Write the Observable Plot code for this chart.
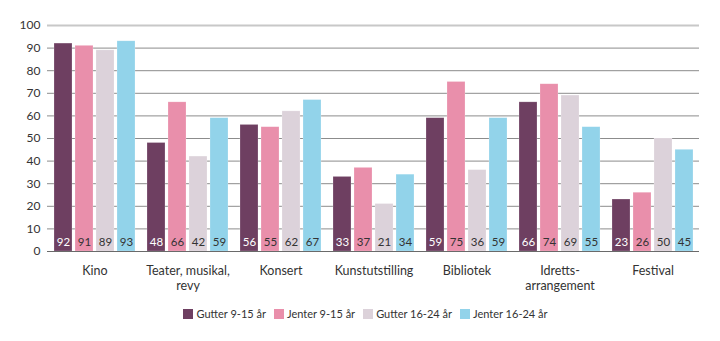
<!DOCTYPE html>
<html>
<head>
<meta charset="utf-8">
<script src="https://cdn.jsdelivr.net/npm/d3@7"></script>
<script src="https://cdn.jsdelivr.net/npm/@observablehq/plot@0.6"></script>
<style>
  html, body { margin: 0; padding: 0; background: #fff; }
  body { width: 720px; height: 341px; overflow: hidden; font-family: Lato, "Open Sans", sans-serif; }
  #chart { position: relative; width: 720px; height: 295px; }
  #chart svg { position: absolute; left: 0; top: 0; background: transparent; }
  #legend { display: flex; justify-content: center; align-items: center; margin-top: 12px; padding-left: 11px; font-size: 11px; color: #333; }
  .item { display: flex; align-items: center; margin: 0 4px; }
  .sw { width: 10px; height: 10px; margin-right: 3px; }
</style>
</head>
<body>
<div id="chart"></div>
<div id="legend"></div>
<script>
const categories = ["Kino", "Teater, musikal,\nrevy", "Konsert", "Kunstutstilling", "Bibliotek", "Idretts-\narrangement", "Festival"];
const seriesNames = ["Gutter 9-15 år", "Jenter 9-15 år", "Gutter 16-24 år", "Jenter 16-24 år"];
const gutter915 = [92, 48, 56, 33, 59, 66, 23];
const jenter915 = [91, 66, 55, 37, 75, 74, 26];
const gutter1624 = [89, 42, 62, 21, 36, 69, 50];
const jenter1624 = [93, 59, 67, 34, 59, 55, 45];
const colors = ["#6e3f61", "#e98fab", "#dcd2da", "#92d3ea"];
const yTicks = [0, 10, 20, 30, 40, 50, 60, 70, 80, 90, 100];

const seriesValues = [gutter915, jenter915, gutter1624, jenter1624];
const data = [];
categories.forEach((c, i) => {
  seriesNames.forEach((s, j) => data.push({cat: c, group: s, value: seriesValues[j][i]}));
});

const common = {
  width: 720,
  height: 295,
  marginTop: 25,
  marginBottom: 44,
  marginLeft: 47,
  marginRight: 21,
  style: {fontFamily: "Lato, 'Open Sans', sans-serif", fontSize: "12px", color: "#333", background: "transparent"},
  y: {domain: [0, 100], axis: null}
};

// background layer: grid + y axis
const grid = Plot.plot({
  ...common,
  marks: [
    Plot.ruleY(yTicks.filter(d => d > 0 && d < 100), {stroke: "#8c8c8c", strokeWidth: 1}),
    Plot.ruleY([100], {stroke: "#c8c8c8", strokeWidth: 2}),
    Plot.axisY({ticks: yTicks, tickSize: 0, tickPadding: 7, fontSize: 12, tickFormat: d => d, label: null})
  ]
});

// bars layer
const bars = Plot.plot({
  ...common,
  fx: {domain: categories, paddingInner: 0.13, paddingOuter: 0.065, label: null},
  x: {domain: seriesNames, paddingInner: 0.15, paddingOuter: 0, axis: null},
  color: {domain: seriesNames, range: colors},
  marks: [
    Plot.barY(data, {fx: "cat", x: "group", y: "value", fill: "group", stroke: "#fff", strokeOpacity: 0.35, strokeWidth: 0.6}),
    Plot.text(data.filter(d => d.group === seriesNames[0]), {fx: "cat", x: "group", y: 0, text: d => String(d.value), dy: -9, fill: "#fff", fontSize: 11.5}),
    Plot.text(data.filter(d => d.group !== seriesNames[0]), {fx: "cat", x: "group", y: 0, text: d => String(d.value), dy: -9, fill: "#333", fontSize: 11.5}),
    Plot.axisFx({anchor: "bottom", tickSize: 0, tickPadding: 13, fontSize: 12.5, lineHeight: 1.2, label: null})
  ]
});

// top layer: baseline
const base = Plot.plot({
  ...common,
  marks: [
    Plot.ruleY([0], {stroke: "#6a6a6a", strokeWidth: 1.2})
  ]
});

const chartDiv = document.getElementById("chart");
chartDiv.appendChild(grid);
chartDiv.appendChild(bars);
chartDiv.appendChild(base);

const legend = document.getElementById("legend");
seriesNames.forEach((s, i) => {
  const it = document.createElement("div");
  it.className = "item";
  const sw = document.createElement("span");
  sw.className = "sw";
  sw.style.background = colors[i];
  const t = document.createElement("span");
  t.textContent = s;
  it.appendChild(sw);
  it.appendChild(t);
  legend.appendChild(it);
});
</script>
</body>
</html>
